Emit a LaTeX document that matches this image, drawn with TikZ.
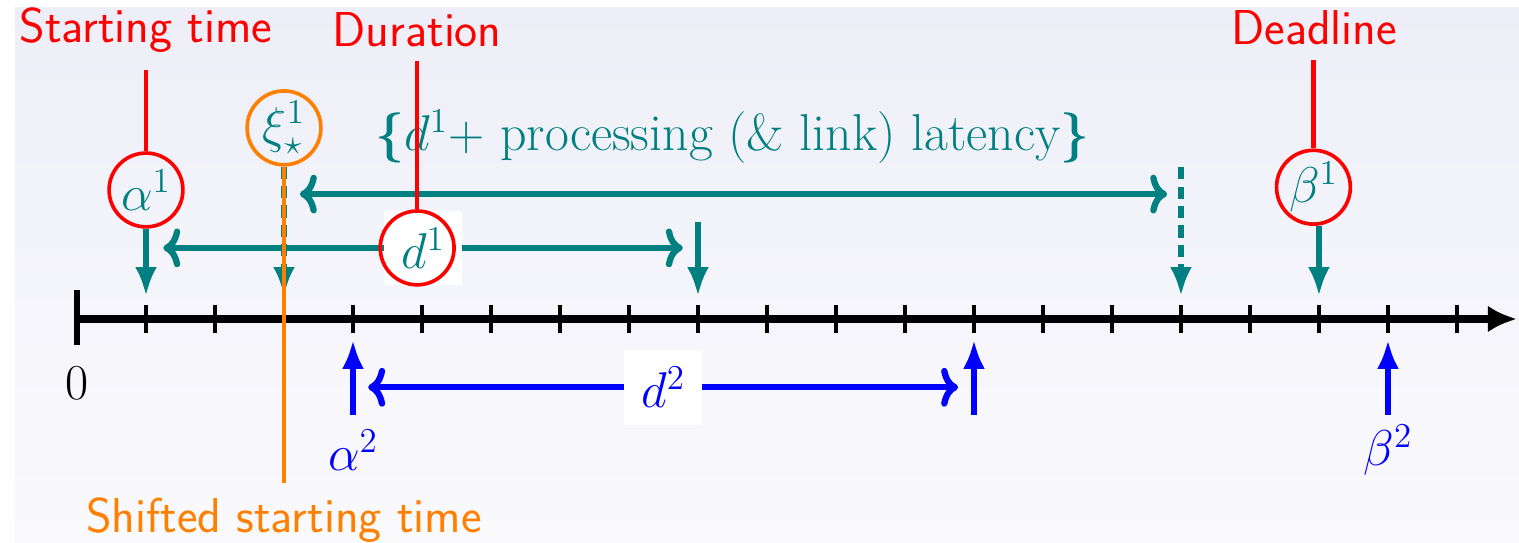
\documentclass[tikz,border=0pt]{standalone}
\usepackage{bm}
\usetikzlibrary{arrows.meta}
\definecolor{bgtop}{RGB}{238,238,248}
\definecolor{bgbot}{RGB}{250,250,253}
\tikzset{
  lbl/.style={font=\fontsize{20}{24}\selectfont},
  tag/.style={font=\sffamily\fontsize{20.2}{24}\selectfont},
  ring/.style={circle,draw=red,line width=1.5pt,minimum size=1.07cm,inner sep=0pt},
  span/.style={line width=2.6pt,{Computer Modern Rightarrow[width=16pt,length=7pt]}-{Computer Modern Rightarrow[width=16pt,length=7pt]}},
  down/.style={teal,line width=2.6pt,-{Latex[length=12pt,width=9pt]}},
  up/.style={blue,line width=2.6pt,-{Latex[length=12pt,width=9pt]}},
}
\begin{document}
\begin{tikzpicture}
\useasboundingbox (-1.116,-3.246) rectangle (20.899,4.623);
\shade[top color=bgtop,bottom color=bgbot] (-0.899,-3.246) rectangle (20.899,4.52);
%
% time axis
\draw[line width=3.3pt,-{Latex[length=12pt,width=11pt]}] (0,0) -- (20.87,0);
\draw[line width=2.6pt] (0,-0.38) -- (0,0.42);
\foreach \i in {1,...,20} \draw[line width=2pt] (\i,-0.2) -- (\i,0.2);
\node[lbl] (zero) at (0,-0.93) {$0$};
%
% task 1
\node[tag,red] (start) at (1,4.19) {Starting time};
\node[tag,red] (dur) at (4.93,4.19) {Duration};
\node[tag,red] (dead) at (17.93,4.22) {Deadline};
\node[ring,lbl,text=teal] (a1) at (1,1.87) {$\alpha^1$};
\node[ring,draw=orange,lbl,text=teal] (xi) at (3,2.77) {$\xi^1_\star$};
\node[ring,lbl,text=teal] (b1) at (17.92,1.91) {$\beta^1$};
\node[lbl,text=teal,font=\fontsize{21.4}{25}\selectfont] (lat) at (9.5,2.64) {$\bm{\{}d^1+$ processing (\& link) latency$\bm{\}}$};
%
\coordinate (t1) at (1,0.33);
\coordinate (t3) at (3,0.33);
\coordinate (t9) at (9,0.33);
\coordinate (t16) at (16,0.33);
\coordinate (t18) at (18,0.33);
\coordinate (e9) at (9,1.41);
\coordinate (e16) at (16,2.2);
\draw[down] (a1.south) -- (t1);
\draw[down] (e9) -- (t9);
\draw[down,dash pattern=on 5pt off 3pt] (e16) -- (t16);
\draw[down] (b1.south -| t18) -- (t18);
\draw[down,dash pattern=on 5pt off 3pt] (xi.south) -- (t3);
%
\coordinate (s1l) at (1.25,1.03);
\coordinate (s1r) at (8.78,1.03);
\draw[span,teal] (s1l) -- node[lbl,fill=white,inner sep=7pt] (d1) {$d^1$} (s1r);
\node[ring] (d1ring) at (4.93,1.03) {};
\coordinate (l1l) at (3.23,1.81);
\coordinate (l1r) at (15.8,1.81);
\draw[span,teal] (l1l) -- (l1r);
%
\coordinate (a1top) at (1,3.61);
\coordinate (durtop) at (4.93,3.74);
\coordinate (b1top) at (17.92,3.75);
\draw[red,line width=1.7pt] (a1top) -- (a1.north);
\draw[red,line width=1.7pt] (durtop) -- (d1ring.north);
\draw[red,line width=1.7pt] (b1top) -- (b1.north);
%
% shifted start
\coordinate (shbot) at (3,-2.38);
\draw[orange,line width=1.3pt] (xi.south) -- (shbot);
\node[tag,orange] (shift) at (3,-2.91) {Shifted starting time};
%
% task 2
\coordinate (u4) at (4,-1.39);
\coordinate (u13) at (13,-1.39);
\coordinate (u19) at (19,-1.39);
\coordinate (p4) at (4,-0.3);
\coordinate (p13) at (13,-0.3);
\coordinate (p19) at (19,-0.3);
\draw[up] (u4) -- (p4);
\draw[up] (u13) -- (p13);
\draw[up] (u19) -- (p19);
\coordinate (s2l) at (4.22,-0.99);
\coordinate (s2r) at (12.77,-0.99);
\draw[span,blue] (s2l) -- node[lbl,fill=white,inner sep=7pt] (d2) {$d^2$} (s2r);
\node[lbl,text=blue] (a2) at (4,-1.9) {$\alpha^2$};
\node[lbl,text=blue] (b2) at (19,-1.9) {$\beta^2$};
\end{tikzpicture}
\end{document}
